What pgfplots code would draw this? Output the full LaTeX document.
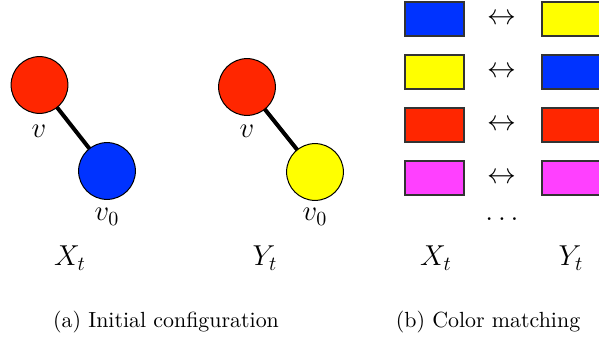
\documentclass[border=0pt]{standalone}
\usepackage{pgfplots}
\pgfplotsset{compat=1.18}
\definecolor{cred}{RGB}{255,38,0}
\definecolor{cblue}{RGB}{0,51,255}
\definecolor{cyel}{RGB}{255,255,0}
\definecolor{cmag}{RGB}{255,64,255}
\tikzset{lab/.style={anchor=base, inner sep=0pt, font=\Large}}
\begin{document}
\begin{tikzpicture}
\begin{axis}[
  width=299.5pt, height=170.5pt, scale only axis,
  xmin=0, xmax=599, ymin=0, ymax=341, y dir=reverse,
  hide axis, clip=true,
]
% edges
\addplot[black, line width=2pt] coordinates {(39.5,85) (107,171)};
\addplot[black, line width=2pt] coordinates {(247,87) (315,172)};
% vertices
\addplot[only marks, mark=*, mark size=14.2pt, mark options={fill=cred, draw=black, line width=0.5pt}] coordinates {(39.5,85) (247,87)};
\addplot[only marks, mark=*, mark size=14.2pt, mark options={fill=cblue, draw=black, line width=0.5pt}] coordinates {(107,171)};
\addplot[only marks, mark=*, mark size=14.2pt, mark options={fill=cyel, draw=black, line width=0.5pt}] coordinates {(315,172)};
% color matching rectangles, left column
\addplot[fill=cblue, draw=black!80, line width=0.7pt] coordinates {(405,2) (464,2) (464,36) (405,36)} -- cycle;
\addplot[fill=cyel, draw=black!80, line width=0.7pt] coordinates {(405,55) (464,55) (464,89) (405,89)} -- cycle;
\addplot[fill=cred, draw=black!80, line width=0.7pt] coordinates {(405,108) (464,108) (464,142) (405,142)} -- cycle;
\addplot[fill=cmag, draw=black!80, line width=0.7pt] coordinates {(405,161) (464,161) (464,195) (405,195)} -- cycle;
% right column
\addplot[fill=cyel, draw=black!80, line width=0.7pt] coordinates {(542,2) (620,2) (620,36) (542,36)} -- cycle;
\addplot[fill=cblue, draw=black!80, line width=0.7pt] coordinates {(542,55) (620,55) (620,89) (542,89)} -- cycle;
\addplot[fill=cred, draw=black!80, line width=0.7pt] coordinates {(542,108) (620,108) (620,142) (542,142)} -- cycle;
\addplot[fill=cmag, draw=black!80, line width=0.7pt] coordinates {(542,161) (620,161) (620,195) (542,195)} -- cycle;
% labels
\node[lab] at (axis cs:39,138) {$v$};
\node[lab] at (axis cs:107,221) {$v_0$};
\node[lab] at (axis cs:247,138) {$v$};
\node[lab] at (axis cs:315,221) {$v_0$};
\node[lab] at (axis cs:70,266) {$X_t$};
\node[lab] at (axis cs:265,266) {$Y_t$};
\node[lab] at (axis cs:436,266) {$X_t$};
\node[lab] at (axis cs:571,266) {$Y_t$};
\node[lab, anchor=center] at (axis cs:502,19) {$\leftrightarrow$};
\node[lab, anchor=center] at (axis cs:502,72) {$\leftrightarrow$};
\node[lab, anchor=center] at (axis cs:502,125) {$\leftrightarrow$};
\node[lab, anchor=center] at (axis cs:502,178) {$\leftrightarrow$};
\node[lab] at (axis cs:502,221) {$\ldots$};
\node[anchor=base, inner sep=0pt, font=\fontsize{10.95}{13}\selectfont] at (axis cs:166,328) {(a) Initial configuration};
\node[anchor=base, inner sep=0pt, font=\fontsize{10.95}{13}\selectfont] at (axis cs:488,328) {(b) Color matching};
\end{axis}
\pgfresetboundingbox
\useasboundingbox (current axis.south west) rectangle (current axis.north east);
\end{tikzpicture}
\end{document}
